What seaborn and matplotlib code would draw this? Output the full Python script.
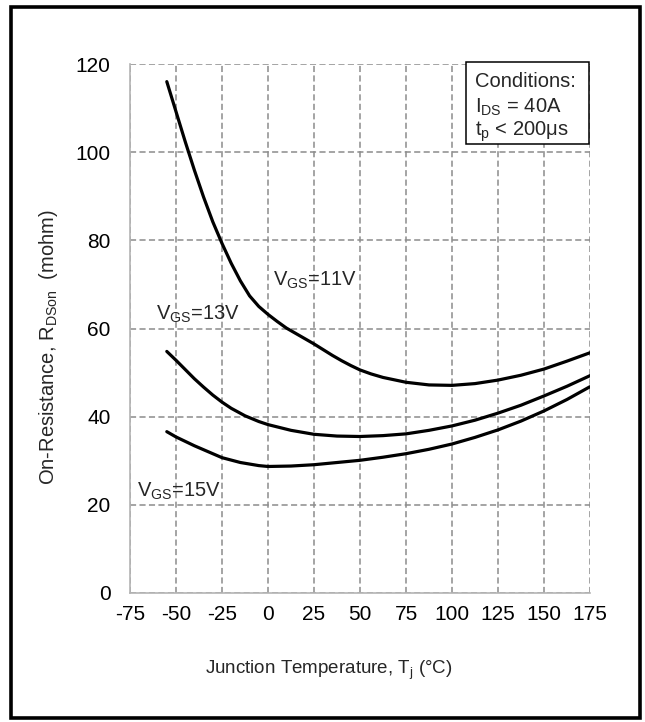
import matplotlib
matplotlib.use("Agg")
import matplotlib.pyplot as plt
import seaborn as sns
import pandas as pd
from matplotlib.patches import Rectangle

# ---------------- data ----------------
t_11 = [-55, -50, -45, -40, -35, -30, -25, -20, -15, -10, -5, 0, 5, 10, 15, 20, 25,
        30, 35, 40, 45, 50, 56, 62.5, 75, 87.5, 100, 112.5, 125, 137.5, 150, 162.5, 175]
r_11 = [116, 109.2, 102.4, 95.9, 89.8, 84.2, 79.3, 74.8, 70.8, 67.4, 65.0, 63.2, 61.6,
        60.1, 58.9, 57.7, 56.5, 55.2, 53.9, 52.7, 51.6, 50.6, 49.7, 48.9, 47.8, 47.2,
        47.1, 47.5, 48.3, 49.4, 50.8, 52.6, 54.5]

t_13 = [-55, -50, -45, -40, -35, -30, -25, -20, -12.5, -5, 0, 12.5, 25, 37.5, 50,
        62.5, 75, 87.5, 100, 112.5, 125, 137.5, 150, 162.5, 175]
r_13 = [54.8, 52.8, 50.7, 48.6, 46.7, 44.9, 43.3, 41.9, 40.2, 38.9, 38.2, 36.9, 36.0,
        35.6, 35.5, 35.7, 36.1, 36.9, 37.9, 39.2, 40.8, 42.6, 44.7, 46.9, 49.3]

t_15 = [-55, -50, -40, -30, -25, -15, -5, 0, 12.5, 25, 37.5, 50, 62.5, 75, 87.5, 100,
        112.5, 125, 137.5, 150, 162.5, 175]
r_15 = [36.6, 35.4, 33.4, 31.6, 30.7, 29.6, 28.9, 28.7, 28.8, 29.1, 29.6, 30.1, 30.8,
        31.6, 32.6, 33.8, 35.3, 37.0, 39.0, 41.3, 43.9, 46.8]

series_names = ["11V", "13V", "15V"]
x_ticks = [-75, -50, -25, 0, 25, 50, 75, 100, 125, 150, 175]
y_ticks = [0, 20, 40, 60, 80, 100, 120]

curve_labels = [r"V$_{\mathregular{GS}}$=11V", r"V$_{\mathregular{GS}}$=13V", r"V$_{\mathregular{GS}}$=15V"]
label_pos = [(2.5, 69.8), (-60.9, 61.9), (-71, 21.8)]

cond_lines = ["Conditions:", r"I$_{\mathregular{DS}}$ = 40A", r"t$_{\mathregular{p}}$ < 200μs"]

df = pd.concat([
    pd.DataFrame({"T": t_11, "R": r_11, "V": series_names[0]}),
    pd.DataFrame({"T": t_13, "R": r_13, "V": series_names[1]}),
    pd.DataFrame({"T": t_15, "R": r_15, "V": series_names[2]}),
], ignore_index=True)

# ---------------- style ----------------
sns.set_theme(style="white")
plt.rcParams["font.family"] = ["Liberation Sans", "DejaVu Sans"]
plt.rcParams["mathtext.fontset"] = "custom"
plt.rcParams["mathtext.rm"] = "Liberation Sans"
plt.rcParams["mathtext.it"] = "Liberation Sans"
plt.rcParams["mathtext.bf"] = "Liberation Sans"

fig = plt.figure(figsize=(6.45, 7.22), dpi=100)
fig.patch.set_facecolor("white")
ax = fig.add_axes([130 / 645, (722 - 593) / 722, 460 / 645, 529 / 722])

sns.lineplot(data=df, x="T", y="R", hue="V", palette=["black"] * 3,
             linewidth=2.3, legend=False, ax=ax, sort=False, zorder=3)

ax.set_xlim(-75, 175)
ax.set_ylim(0, 120)
ax.set_xticks(x_ticks)
ax.set_yticks(y_ticks)
ax.set_xticklabels([str(v) for v in x_ticks])
ax.set_yticklabels([str(v) for v in y_ticks])

ax.grid(True, color="#8c8c8c", linestyle=(0, (4, 2.2)), linewidth=1.1)
ax.set_axisbelow(True)
for s in ["top", "right"]:
    ax.spines[s].set_visible(False)
for s in ["left", "bottom"]:
    ax.spines[s].set_color("#b4b4b4")
    ax.spines[s].set_linewidth(1.2)

ax.tick_params(axis="both", length=0, labelsize=15, colors="black")
ax.tick_params(axis="x", pad=9)
ax.tick_params(axis="y", pad=14)

ax.set_xlabel(r"Junction Temperature, T$_{\mathregular{j}}$ (°C)", fontsize=13.5)
ax.xaxis.set_label_coords(0.432, -0.125)
ax.set_ylabel(r"On-Resistance, R$_{\mathregular{DSon}}$  (mohm)", fontsize=14.5)
ax.yaxis.set_label_coords(-0.152, 0.465)

for txt, (px, py) in zip(curve_labels, label_pos):
    ax.text(px, py, txt, fontsize=14.5, va="baseline", ha="left", zorder=4)

# conditions box
ax.add_patch(Rectangle((0.730, 0.849), 0.2685, 0.155, transform=ax.transAxes,
                       facecolor="white", edgecolor="black", linewidth=1.1,
                       clip_on=False, zorder=5))
for txt, yy in zip(cond_lines, [0.957, 0.907, 0.864]):
    ax.text(0.75, yy, txt, transform=ax.transAxes, fontsize=14.5,
            va="baseline", ha="left", zorder=6)

# figure border
fig.patches.append(Rectangle((10.5 / 645, 4 / 722), 629.5 / 645, 711.5 / 722,
                             transform=fig.transFigure, fill=False,
                             edgecolor="black", linewidth=2.6))

fig.savefig("out.png", dpi=100)
